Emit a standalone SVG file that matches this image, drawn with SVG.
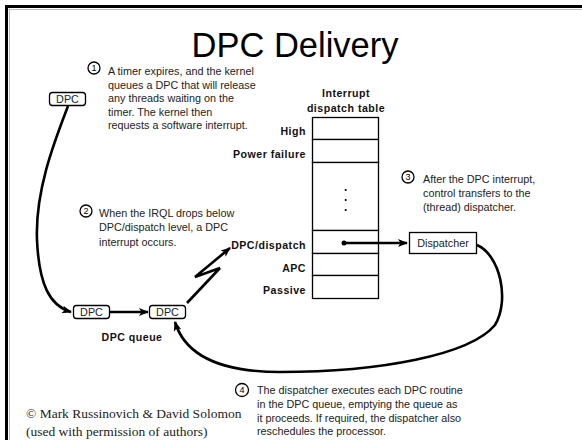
<svg xmlns="http://www.w3.org/2000/svg" width="582" height="440" viewBox="0 0 582 440">
<style>
.t{font-family:"Liberation Sans",Arial,sans-serif;font-size:10.8px;fill:#222}
.b{font-family:"Liberation Sans",Arial,sans-serif;font-size:10.6px;font-weight:bold;fill:#111;letter-spacing:0.5px}
.box{fill:#fff;stroke:#000;stroke-width:1.3}
.num{fill:#fff;stroke:#000;stroke-width:1.3}
.nt{font-family:"Liberation Sans",Arial,sans-serif;font-size:9px;fill:#000;text-anchor:middle}
.con{fill:none;stroke:#000;stroke-width:2.6}
.row{fill:#fff;stroke:#000;stroke-width:1.3}
</style>
<defs>
<marker id="ah" markerWidth="10" markerHeight="8" refX="9" refY="4" orient="auto" markerUnits="userSpaceOnUse">
<path d="M0,0 L10,4 L0,8 L2.5,4 Z" fill="#000"/>
</marker>
</defs>
<rect x="0" y="0" width="582" height="440" fill="#fff"/>
<!-- border -->
<line x1="8.5" y1="9.5" x2="582" y2="9.5" stroke="#bbb" stroke-width="1"/>
<line x1="9.5" y1="8.5" x2="9.5" y2="440" stroke="#bbb" stroke-width="1"/>
<line x1="5" y1="6.5" x2="582" y2="6.5" stroke="#000" stroke-width="3"/>
<line x1="6.5" y1="5" x2="6.5" y2="440" stroke="#000" stroke-width="3"/>

<text x="295" y="57" text-anchor="middle" font-family="'Liberation Sans',Arial,sans-serif" font-size="34.5" fill="#000">DPC Delivery</text>

<g id="note1">
<circle class="num" cx="94" cy="68" r="6"/><text class="nt" x="94" y="71.2">1</text>
<text class="t" x="108" y="75">A timer expires, and the kernel</text>
<text class="t" x="108" y="88.5">queues a DPC that will release</text>
<text class="t" x="108" y="102">any threads waiting on the</text>
<text class="t" x="108" y="115.5">timer. The kernel then</text>
<text class="t" x="108" y="129">requests a software interrupt.</text>
</g>

<g id="dpc-timer">
<rect class="box" x="49.5" y="92.5" width="36" height="13" rx="3"/>
<text class="t" x="67.5" y="103" text-anchor="middle" font-size="10.5">DPC</text>
</g>

<g id="table">
<text class="b" x="346" y="97" text-anchor="middle">Interrupt</text>
<text class="b" x="346" y="112" text-anchor="middle">dispatch table</text>
<rect class="row" x="312.5" y="117.5" width="66" height="22"/>
<rect class="row" x="312.5" y="139.5" width="66" height="23"/>
<rect class="row" x="312.5" y="162.5" width="66" height="68"/>
<rect class="row" x="312.5" y="230.5" width="66" height="23"/>
<rect class="row" x="312.5" y="253.5" width="66" height="22"/>
<rect class="row" x="312.5" y="275.5" width="66" height="23"/>
<circle cx="345.7" cy="190" r="1.1" fill="#000"/>
<circle cx="345.7" cy="200" r="1.1" fill="#000"/>
<circle cx="345.7" cy="210" r="1.1" fill="#000"/>
<text class="b" x="306" y="135" text-anchor="end">High</text>
<text class="b" x="306" y="158" text-anchor="end">Power failure</text>
<text class="b" x="306" y="249" text-anchor="end">DPC/dispatch</text>
<text class="b" x="306" y="272" text-anchor="end">APC</text>
<text class="b" x="306" y="294" text-anchor="end">Passive</text>
</g>

<g id="note3">
<circle class="num" cx="408" cy="177" r="6"/><text class="nt" x="408" y="180.2">3</text>
<text class="t" x="423" y="183">After the DPC interrupt,</text>
<text class="t" x="423" y="197">control transfers to the</text>
<text class="t" x="423" y="211">(thread) dispatcher.</text>
</g>

<g id="dispatcher">
<rect class="box" x="409.5" y="232.5" width="67" height="21"/>
<text class="t" x="443" y="247" text-anchor="middle">Dispatcher</text>
</g>

<g id="note2">
<circle class="num" cx="86" cy="211" r="6"/><text class="nt" x="86" y="214.2">2</text>
<text class="t" x="99" y="216.5">When the IRQL drops below</text>
<text class="t" x="99" y="231">DPC/dispatch level, a DPC</text>
<text class="t" x="99" y="245.5">interrupt occurs.</text>
</g>

<g id="dpc-q1">
<rect class="box" x="73.5" y="305.5" width="36" height="13" rx="3"/>
<text class="t" x="91.5" y="316" text-anchor="middle" font-size="10.5">DPC</text>
</g>
<g id="dpc-q2">
<rect class="box" x="149.5" y="305.5" width="36" height="13" rx="3"/>
<text class="t" x="167.5" y="316" text-anchor="middle" font-size="10.5">DPC</text>
</g>
<text class="b" x="132" y="341" text-anchor="middle">DPC queue</text>

<g id="note4">
<circle class="num" cx="242" cy="390" r="6.5"/><text class="nt" x="242" y="393.2">4</text>
<text class="t" x="257" y="394">The dispatcher executes each DPC routine</text>
<text class="t" x="257" y="408">in the DPC queue, emptying the queue as</text>
<text class="t" x="257" y="421.5">it proceeds. If required, the dispatcher also</text>
<text class="t" x="257" y="435">reschedules the processor.</text>
</g>

<g id="credit" font-family="'Liberation Serif','Times New Roman',serif" font-size="13.5" fill="#222">
<text x="26" y="418">© Mark Russinovich &amp; David Solomon</text>
<text x="26" y="436">(used with permission of authors)</text>
</g>

<g id="connectors">
<path class="con" d="M68,106 C55,140 35,190 37,240 C39,285 50,306 71,312" marker-end="url(#ah)"/>
<path class="con" d="M110,312 L148,312" marker-end="url(#ah)"/>
<path class="con" d="M187,303 L220,268 L195,277 L230,248" marker-end="url(#ah)"/>
<circle cx="344" cy="243" r="2.5" fill="#000"/>
<path class="con" d="M344,243 L407,243" marker-end="url(#ah)"/>
<path class="con" d="M477,245 C500,255 510,300 495,325 C470,355 380,372 280,372 C220,372 185,355 175,322" marker-end="url(#ah)"/>
</g>
</svg>
